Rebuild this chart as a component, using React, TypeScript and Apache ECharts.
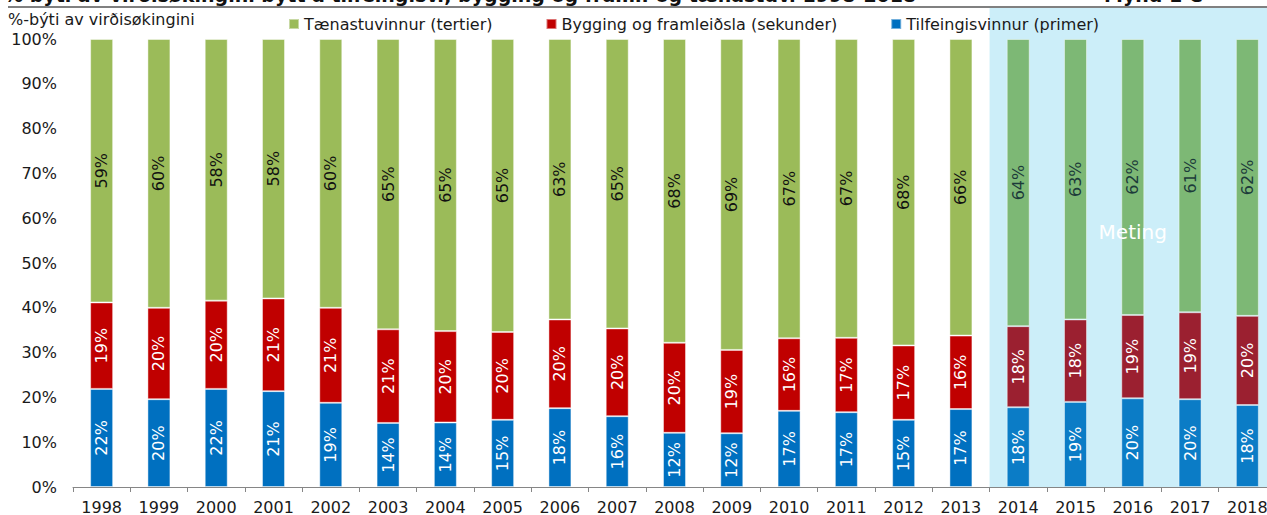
import React, { useEffect, useRef } from "react";
import * as echarts from "echarts";

const categories = ["1998","1999","2000","2001","2002","2003","2004","2005","2006","2007","2008","2009","2010","2011","2012","2013","2014","2015","2016","2017","2018"];
const primer = [21.9,19.6,21.9,21.4,18.8,14.3,14.4,15.0,17.6,15.8,12.1,12.0,17.0,16.7,15.0,17.4,17.8,19.0,19.8,19.6,18.3];
const sekunder = [19.3,20.4,19.7,20.7,21.2,20.9,20.4,19.6,19.8,19.6,20.1,18.6,16.2,16.6,16.6,16.4,18.1,18.4,18.6,19.4,19.9];
const tertier = [58.8,60.0,58.4,57.9,60.0,64.8,65.2,65.4,62.6,64.6,67.8,69.4,66.8,66.7,68.4,66.2,64.1,62.6,61.6,61.0,61.8];
const yTicks = [0, 100, 10];
const forecastFrom = "2014";
const seriesNames = ["Tilfeingisvinnur (primer)", "Bygging og framleiðsla (sekunder)", "Tænastuvinnur (tertier)"];
const legendOrder = ["Tænastuvinnur (tertier)", "Bygging og framleiðsla (sekunder)", "Tilfeingisvinnur (primer)"];
const titleText = "% býti av virðisøkingini býtt á tilfeingisv., bygging og framl. og tænastuv. 1998-2018";
const titleRight = "Mynd 1 C";
const unitText = "%-býti av virðisøkingini";
const forecastText = "Meting";

const FONT = "DejaVu Sans";
const baseColors = ["#0070C0", "#C00000", "#9BBB59"];
const fcColors = ["#0B7CC6", "#9B2030", "#7DB875"];
const labelColors = ["#ffffff", "#ffffff", "#111111"];
const fcLabelColors = ["#ffffff", "#ffffff", "#1C3B3A"];

const INNER_W = 1300;

export default function App() {
  const ref = useRef<HTMLDivElement>(null);
  useEffect(() => {
    if (!ref.current) return;
    const chart = echarts.init(ref.current, null, { renderer: "svg" });
    const fcIdx = categories.indexOf(forecastFrom);
    const values = [primer, sekunder, tertier];
    const series = values.map((arr, s) => ({
      name: seriesNames[s],
      type: "bar",
      stack: "total",
      barWidth: 23,
      z: 3,
      itemStyle: { color: baseColors[s], borderColor: "rgba(255,255,255,0.45)", borderWidth: 1 },
      label: {
        show: true,
        position: "inside",
        rotate: 90,
        fontFamily: FONT,
        fontSize: 16,
        color: labelColors[s],
        formatter: (p: any) => Math.round(p.value) + "%",
      },
      data: arr.map((v, i) =>
        i >= fcIdx
          ? { value: v, itemStyle: { color: fcColors[s] }, label: { color: fcLabelColors[s] } }
          : v
      ),
    }));
    const option: any = {
      animation: false,
      textStyle: { fontFamily: FONT },
      grid: { left: 73, top: 39, width: 1203, height: 448, containLabel: false },
      legend: {
        data: legendOrder,
        left: 283,
        top: 11,
        icon: "rect",
        itemWidth: 10,
        itemHeight: 10,
        itemGap: 53,
        textStyle: { fontFamily: FONT, fontSize: 16, color: "#1a1a1a" },
      },
      xAxis: {
        type: "category",
        data: categories,
        axisLine: { lineStyle: { color: "#868686", width: 1 } },
        axisTick: { show: true, length: 5, lineStyle: { color: "#868686" } },
        axisLabel: { fontFamily: FONT, fontSize: 16, color: "#1a1a1a", margin: 12 },
      },
      yAxis: {
        type: "value",
        min: yTicks[0],
        max: yTicks[1],
        interval: yTicks[2],
        axisLine: { show: false },
        axisTick: { show: false },
        splitLine: { show: false },
        axisLabel: { fontFamily: FONT, fontSize: 16, color: "#1a1a1a", margin: 16, formatter: "{value}%" },
      },
      series,
    };
    chart.setOption(option);

    const c0 = chart.convertToPixel({ xAxisIndex: 0 }, categories[0]) as number;
    const c1 = chart.convertToPixel({ xAxisIndex: 0 }, categories[1]) as number;
    const band = c1 - c0;
    const xStart = (chart.convertToPixel({ xAxisIndex: 0 }, forecastFrom) as number) - band / 2;
    const yBottom = chart.convertToPixel({ yAxisIndex: 0 }, 0) as number;
    const metPt = chart.convertToPixel({ xAxisIndex: 0, yAxisIndex: 0 }, ["2016", 57]) as number[];
    chart.setOption({
      graphic: [
        { type: "rect", z: 0, silent: true, shape: { x: xStart, y: 8, width: INNER_W - xStart, height: yBottom - 8 }, style: { fill: "#CCEEF9" } },
        { type: "line", z: 1, silent: true, shape: { x1: 8, y1: 7, x2: INNER_W, y2: 7 }, style: { stroke: "#808080", lineWidth: 2 } },
        { type: "text", z: 1, x: 4, y: 4, style: { text: titleText, font: `bold 19px "${FONT}"`, fill: "#111", textVerticalAlign: "bottom" } },
        { type: "text", z: 1, x: 1104, y: 4, style: { text: titleRight, font: `bold 19px "${FONT}"`, fill: "#111", textVerticalAlign: "bottom" } },
        { type: "text", z: 1, x: 8, y: 19, style: { text: unitText, font: `16px "${FONT}"`, fill: "#1a1a1a", textVerticalAlign: "middle" } },
        { type: "text", z: 10, x: metPt[0], y: metPt[1], style: { text: forecastText, font: `20px "${FONT}"`, fill: "#ffffff", textAlign: "center", textVerticalAlign: "middle" } },
      ],
    });
    return () => chart.dispose();
  }, []);
  return (
    <div style={{ position: "absolute", left: 0, top: 0, width: 1267, height: 515, overflow: "hidden" }}>
      <div ref={ref} style={{ width: INNER_W, height: 515 }} />
    </div>
  );
}
